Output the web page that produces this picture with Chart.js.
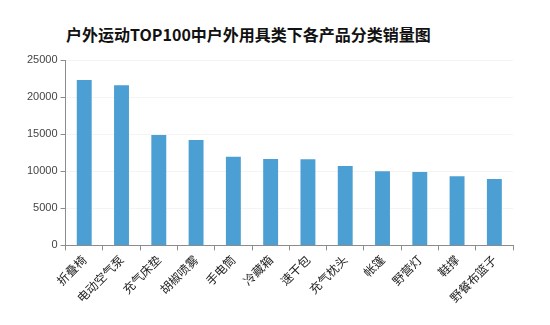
<!DOCTYPE html>
<html>
<head>
<meta charset="utf-8">
<script src="https://cdn.jsdelivr.net/npm/chart.js@4/dist/chart.umd.min.js"></script>
<style>
html,body{margin:0;padding:0;background:#fff;}
#wrap{position:relative;width:550px;height:325px;}
#title{position:absolute;left:66px;top:22px;font:bold 16px "Noto Sans CJK SC","Noto Sans",sans-serif;color:#111;white-space:nowrap;margin:0;}
canvas{position:absolute;left:0;top:0;}
</style>
</head>
<body>
<div id="wrap">
<div id="title">户外运动TOP100中户外用具类下各产品分类销量图</div>
<canvas id="c" width="550" height="325"></canvas>
</div>
<script>
const categories = ["折叠椅","电动空气泵","充气床垫","胡椒喷雾","手电筒","冷藏箱","速干包","充气枕头","帐篷","野营灯","鞋撑","野餐布篮子"];
const salesValues = [22300,21600,14900,14200,11950,11650,11600,10700,10000,9880,9330,8950];
const yTicks = [0,5000,10000,15000,20000,25000];

new Chart(document.getElementById('c'), {
  type: 'bar',
  data: {
    labels: categories,
    datasets: [{
      label: '销量',
      data: salesValues,
      backgroundColor: '#4b9fd3',
      borderWidth: 0,
      barPercentage: 0.8,
      categoryPercentage: 0.5
    }]
  },
  options: {
    responsive: false,
    animation: false,
    layout: { padding: { left: 24, right: 37, top: 60, bottom: 18 } },
    plugins: { legend: { display: false }, tooltip: { enabled: false }, title: { display: false } },
    scales: {
      x: {
        grid: { display: true, drawOnChartArea: false, drawTicks: true, tickLength: 5, tickColor: '#8c8c8c', offset: true },
        border: { display: true, color: '#8c8c8c', width: 1 },
        ticks: { color: '#222', font: { family: '"Noto Sans CJK SC", sans-serif', size: 12 }, minRotation: 45, maxRotation: 45, padding: 2, autoSkip: false }
      },
      y: {
        min: 0, max: 25000,
        afterBuildTicks: (axis) => { axis.ticks = yTicks.map(v => ({ value: v })); },
        grid: { display: true, color: '#f4f4f4', drawTicks: true, tickLength: 5, tickColor: '#8c8c8c' },
        border: { display: true, color: '#8c8c8c', width: 1 },
        ticks: { color: '#444', font: { family: '"Liberation Sans", Arial, sans-serif', size: 11 }, padding: 3, callback: (v) => String(v) }
      }
    }
  }
});
</script>
</body>
</html>
